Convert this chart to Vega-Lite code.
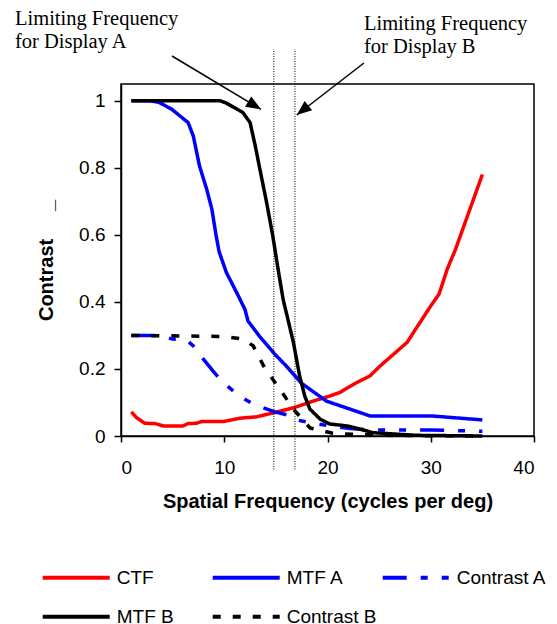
{
  "$schema": "https://vega.github.io/schema/vega-lite/v6.json",
  "width": 413,
  "height": 352,
  "autosize": "none",
  "padding": {"left": 121, "top": 84, "right": 23, "bottom": 188},
  "background": "white",
  "config": {
    "view": {"stroke": "black", "strokeWidth": 1.5},
    "font": "Liberation Sans",
    "axis": {
      "grid": false,
      "domainColor": "black",
      "domainWidth": 1.5,
      "tickColor": "black",
      "tickWidth": 1.5,
      "labelColor": "black",
      "labelFont": "Liberation Sans",
      "labelFontSize": 19,
      "titleFont": "Liberation Sans",
      "titleFontSize": 20,
      "titleFontWeight": "bold",
      "titleColor": "black"
    }
  },
  "datasets": {
    "series": [
      {"s": "CTF", "x": 1, "y": 0.072}, {"s": "CTF", "x": 1.5, "y": 0.055}, {"s": "CTF", "x": 2.3, "y": 0.038}, {"s": "CTF", "x": 3.3, "y": 0.037}, {"s": "CTF", "x": 4.1, "y": 0.03}, {"s": "CTF", "x": 6, "y": 0.03}, {"s": "CTF", "x": 6.5, "y": 0.037}, {"s": "CTF", "x": 7.3, "y": 0.038}, {"s": "CTF", "x": 7.8, "y": 0.043}, {"s": "CTF", "x": 9.9, "y": 0.043}, {"s": "CTF", "x": 11.5, "y": 0.053}, {"s": "CTF", "x": 13.1, "y": 0.057}, {"s": "CTF", "x": 14.9, "y": 0.07}, {"s": "CTF", "x": 16.8, "y": 0.085}, {"s": "CTF", "x": 18.6, "y": 0.104}, {"s": "CTF", "x": 20.2, "y": 0.119}, {"s": "CTF", "x": 21.2, "y": 0.13}, {"s": "CTF", "x": 22.8, "y": 0.159}, {"s": "CTF", "x": 24.1, "y": 0.179}, {"s": "CTF", "x": 25.1, "y": 0.209}, {"s": "CTF", "x": 27.7, "y": 0.279}, {"s": "CTF", "x": 30, "y": 0.388}, {"s": "CTF", "x": 30.8, "y": 0.423}, {"s": "CTF", "x": 31.6, "y": 0.498}, {"s": "CTF", "x": 32.4, "y": 0.557}, {"s": "CTF", "x": 33.6, "y": 0.66}, {"s": "CTF", "x": 35, "y": 0.78},
      {"s": "MTF A", "x": 1, "y": 1}, {"s": "MTF A", "x": 2.8, "y": 1}, {"s": "MTF A", "x": 3.7, "y": 0.995}, {"s": "MTF A", "x": 4.9, "y": 0.975}, {"s": "MTF A", "x": 5.7, "y": 0.955}, {"s": "MTF A", "x": 6.5, "y": 0.935}, {"s": "MTF A", "x": 7, "y": 0.895}, {"s": "MTF A", "x": 7.6, "y": 0.806}, {"s": "MTF A", "x": 8.3, "y": 0.736}, {"s": "MTF A", "x": 8.8, "y": 0.677}, {"s": "MTF A", "x": 9.2, "y": 0.6}, {"s": "MTF A", "x": 9.5, "y": 0.55}, {"s": "MTF A", "x": 10.2, "y": 0.488}, {"s": "MTF A", "x": 11.2, "y": 0.428}, {"s": "MTF A", "x": 12, "y": 0.378}, {"s": "MTF A", "x": 12.3, "y": 0.343}, {"s": "MTF A", "x": 13.4, "y": 0.298}, {"s": "MTF A", "x": 14.9, "y": 0.244}, {"s": "MTF A", "x": 16, "y": 0.209}, {"s": "MTF A", "x": 17.5, "y": 0.157}, {"s": "MTF A", "x": 19.9, "y": 0.104}, {"s": "MTF A", "x": 22.2, "y": 0.08}, {"s": "MTF A", "x": 24.1, "y": 0.06}, {"s": "MTF A", "x": 30, "y": 0.06}, {"s": "MTF A", "x": 35, "y": 0.048},
      {"s": "Contrast A", "x": 1, "y": 0.3}, {"s": "Contrast A", "x": 3.7, "y": 0.3}, {"s": "Contrast A", "x": 5, "y": 0.289}, {"s": "Contrast A", "x": 6.3, "y": 0.287}, {"s": "Contrast A", "x": 7, "y": 0.269}, {"s": "Contrast A", "x": 7.6, "y": 0.244}, {"s": "Contrast A", "x": 8.9, "y": 0.194}, {"s": "Contrast A", "x": 9.9, "y": 0.159}, {"s": "Contrast A", "x": 11.5, "y": 0.119}, {"s": "Contrast A", "x": 12.8, "y": 0.095}, {"s": "Contrast A", "x": 14.9, "y": 0.072}, {"s": "Contrast A", "x": 16.5, "y": 0.06}, {"s": "Contrast A", "x": 17, "y": 0.048}, {"s": "Contrast A", "x": 18, "y": 0.042}, {"s": "Contrast A", "x": 20.2, "y": 0.03}, {"s": "Contrast A", "x": 22.2, "y": 0.022}, {"s": "Contrast A", "x": 24.1, "y": 0.018}, {"s": "Contrast A", "x": 30, "y": 0.018}, {"s": "Contrast A", "x": 35, "y": 0.014},
      {"s": "MTF B", "x": 1, "y": 1}, {"s": "MTF B", "x": 9.6, "y": 1}, {"s": "MTF B", "x": 10.2, "y": 0.993}, {"s": "MTF B", "x": 11.8, "y": 0.965}, {"s": "MTF B", "x": 12.5, "y": 0.935}, {"s": "MTF B", "x": 13, "y": 0.866}, {"s": "MTF B", "x": 13.45, "y": 0.796}, {"s": "MTF B", "x": 14.1, "y": 0.697}, {"s": "MTF B", "x": 14.7, "y": 0.597}, {"s": "MTF B", "x": 15.2, "y": 0.5}, {"s": "MTF B", "x": 15.7, "y": 0.408}, {"s": "MTF B", "x": 16.7, "y": 0.279}, {"s": "MTF B", "x": 17.3, "y": 0.179}, {"s": "MTF B", "x": 17.8, "y": 0.119}, {"s": "MTF B", "x": 18.3, "y": 0.08}, {"s": "MTF B", "x": 19.3, "y": 0.05}, {"s": "MTF B", "x": 20.2, "y": 0.036}, {"s": "MTF B", "x": 21.9, "y": 0.03}, {"s": "MTF B", "x": 23.2, "y": 0.02}, {"s": "MTF B", "x": 24.4, "y": 0.01}, {"s": "MTF B", "x": 27, "y": 0.005}, {"s": "MTF B", "x": 28.7, "y": 0.002}, {"s": "MTF B", "x": 35, "y": 0},
      {"s": "Contrast B", "x": 1, "y": 0.3}, {"s": "Contrast B", "x": 10, "y": 0.297}, {"s": "Contrast B", "x": 11.8, "y": 0.289}, {"s": "Contrast B", "x": 12.8, "y": 0.269}, {"s": "Contrast B", "x": 13.9, "y": 0.204}, {"s": "Contrast B", "x": 15.4, "y": 0.139}, {"s": "Contrast B", "x": 16.7, "y": 0.08}, {"s": "Contrast B", "x": 18.3, "y": 0.024}, {"s": "Contrast B", "x": 20.5, "y": 0.008}, {"s": "Contrast B", "x": 22.4, "y": 0.005}, {"s": "Contrast B", "x": 25, "y": 0.002}, {"s": "Contrast B", "x": 35, "y": 0}
    ],
    "limits": [{"x": 14.8}, {"x": 16.85}],
    "arrows": [
      {"x": 4.94, "y": 1.1335, "x2": 13.56, "y2": 0.9745, "dir": 31},
      {"x": 23.53, "y": 1.1126, "x2": 17.02, "y2": 0.9575, "dir": 141}
    ],
    "notes": [
      {"x": -10.27, "y": 1.226, "label": "Limiting Frequency\nfor Display A"},
      {"x": 23.53, "y": 1.211, "label": "Limiting Frequency\nfor Display B"}
    ]
  },
  "layer": [
    {
      "data": {"name": "series"},
      "mark": {"type": "line", "strokeWidth": 3.5, "strokeJoin": "round", "strokeCap": "butt"},
      "encoding": {
        "x": {"field": "x", "type": "quantitative", "scale": {"domain": [0, 40], "nice": false},
          "axis": {"values": [0, 10, 20, 30, 40], "format": "d", "tickSize": 6, "labelPadding": 16, "title": "Spatial Frequency (cycles per deg)", "titlePadding": 14}},
        "y": {"field": "y", "type": "quantitative", "scale": {"domain": [0, 1.05], "nice": false},
          "axis": {"values": [0, 0.2, 0.4, 0.6, 0.8, 1], "format": "~g", "tickSize": 7, "labelPadding": 9, "title": "Contrast\u00a0\u00a0\u00a0\u00a0\u00a0_", "titlePadding": 22}},
        "color": {"field": "s", "type": "nominal",
          "scale": {"domain": ["CTF", "MTF B", "MTF A", "Contrast B", "Contrast A"], "range": ["#ff0000", "#000000", "#0000ff", "#000000", "#0000ff"]},
          "legend": {"title": null, "orient": "none", "legendX": -80.3, "legendY": 483.7, "columns": 3, "symbolType": "stroke", "symbolSize": 4489, "symbolStrokeWidth": 4, "clipHeight": 20, "rowPadding": 19, "columnPadding": 4, "gridAlign": "all", "labelFont": "Liberation Sans", "labelFontSize": 19, "labelColor": "black", "labelOffset": 5, "padding": 0, "labelLimit": 300}},
        "strokeDash": {"field": "s", "type": "nominal",
          "scale": {"domain": ["CTF", "MTF B", "MTF A", "Contrast B", "Contrast A"], "range": [[1, 0], [1, 0], [1, 0], [8, 12], [24, 14, 7, 14, 7, 14]]},
          "legend": {"title": null, "orient": "none", "legendX": -80.3, "legendY": 483.7, "columns": 3, "symbolType": "stroke", "symbolSize": 4489, "symbolStrokeWidth": 4, "clipHeight": 20, "rowPadding": 19, "columnPadding": 4, "gridAlign": "all", "labelFont": "Liberation Sans", "labelFontSize": 19, "labelColor": "black", "labelOffset": 5, "padding": 0, "labelLimit": 300}}
      }
    },
    {
      "data": {"name": "limits"},
      "mark": {"type": "rule", "color": "black", "strokeWidth": 1, "strokeDash": [1, 1.5]},
      "encoding": {
        "x": {"field": "x", "type": "quantitative"},
        "y": {"datum": -0.1},
        "y2": {"datum": 1.154}
      }
    },
    {
      "data": {"name": "arrows"},
      "mark": {"type": "rule", "color": "black", "strokeWidth": 1.5},
      "encoding": {
        "x": {"field": "x", "type": "quantitative"},
        "y": {"field": "y", "type": "quantitative"},
        "x2": {"field": "x2"},
        "y2": {"field": "y2"}
      }
    },
    {
      "data": {"name": "arrows"},
      "mark": {"type": "point", "shape": "M0,0L-1,-0.4L-1,0.4Z", "filled": true, "color": "black", "opacity": 1, "size": 900},
      "encoding": {
        "x": {"field": "x2", "type": "quantitative"},
        "y": {"field": "y2", "type": "quantitative"},
        "angle": {"field": "dir", "type": "quantitative", "scale": null}
      }
    },
    {
      "data": {"name": "notes"},
      "mark": {"type": "text", "font": "Liberation Serif", "fontSize": 20.5, "align": "left", "baseline": "alphabetic", "lineHeight": 23, "lineBreak": "\n", "color": "black"},
      "encoding": {
        "x": {"field": "x", "type": "quantitative"},
        "y": {"field": "y", "type": "quantitative"},
        "text": {"field": "label", "type": "nominal"}
      }
    }
  ]
}
